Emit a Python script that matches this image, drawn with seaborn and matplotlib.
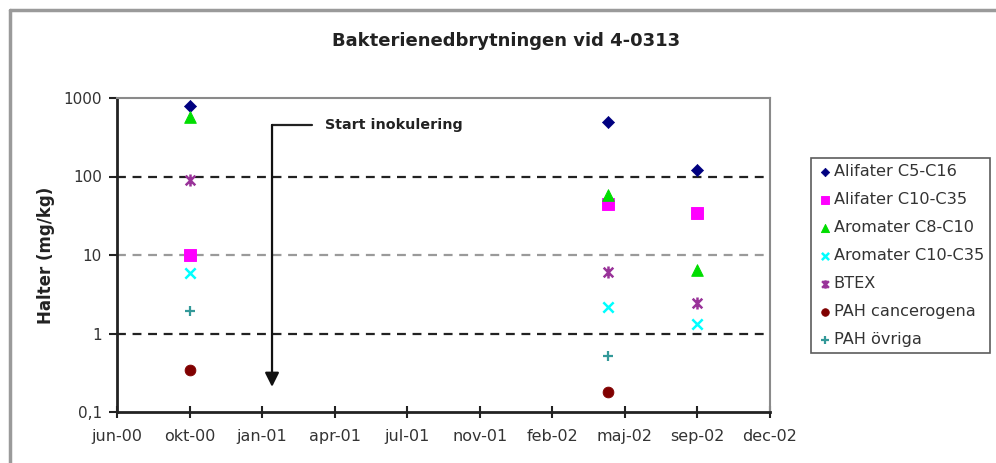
import numpy as np
import pandas as pd
import matplotlib
matplotlib.use("Agg")
import matplotlib.pyplot as plt
import matplotlib.dates as mdates
from matplotlib.lines import Line2D
import seaborn as sns

sns.set_theme(style="white")
plt.rcParams['font.family'] = ['DejaVu Sans']

# ---- data ----
sample_dates = ["2000-10-01", "2002-05-08", "2002-09-09"]
series_names = ["Alifater C5-C16", "Alifater C10-C35", "Aromater C8-C10",
                "Aromater C10-C35", "BTEX", "PAH cancerogena", "PAH övriga"]
alifater_c5_c16 = [800, 500, 120]
alifater_c10_c35 = [10, 45, 34]
aromater_c8_c10 = [580, 58, 6.4]
aromater_c10_c35 = [5.9, 2.2, 1.32]
btex = [90, 6.0, 2.45]
pah_cancerogena = [0.34, 0.18, np.nan]
pah_ovriga = [1.95, 0.52, np.nan]
tick_labels = ["jun-00", "okt-00", "jan-01", "apr-01", "jul-01",
               "nov-01", "feb-02", "maj-02", "sep-02", "dec-02"]
y_ticks = [0.1, 1, 10, 100, 1000]
y_tick_labels = ["0,1", "1", "10", "100", "1000"]

values = [alifater_c5_c16, alifater_c10_c35, aromater_c8_c10,
          aromater_c10_c35, btex, pah_cancerogena, pah_ovriga]

rows = []
for name, vals in zip(series_names, values):
    for d, v in zip(sample_dates, vals):
        rows.append({"serie": name, "datum": mdates.date2num(pd.Timestamp(d)), "halt": v})
df = pd.DataFrame(rows).dropna()

# ---- styles ----
star = matplotlib.path.Path(
    [(-1, -1), (1, 1), (-1, 1), (1, -1), (0, -1.25), (0, 1.25)],
    [1, 2, 1, 2, 1, 2])
styles = {
    "Alifater C5-C16": dict(marker="D", color="#000080", s=38),
    "Alifater C10-C35": dict(marker="s", color="#FF00FF", s=70),
    "Aromater C8-C10": dict(marker="^", color="#00DD00", s=70),
    "Aromater C10-C35": dict(marker="x", color="#00FFFF", s=55, linewidth=1.8),
    "BTEX": dict(marker=star, color="#993399", s=75, linewidth=1.8),
    "PAH cancerogena": dict(marker="o", color="#800000", s=60),
    "PAH övriga": dict(marker="+", color="#339999", s=55, linewidth=1.6),
}

fig = plt.figure(figsize=(9.96, 4.63), dpi=100)
ax = fig.add_axes([117/996, 1-412/463, 653/996, 314/463])

for name in series_names:
    sub = df[df["serie"] == name]
    st = dict(styles[name])
    col = st.pop("color")
    if st["marker"] in ("x", "+"):
        sns.scatterplot(data=sub, x="datum", y="halt", ax=ax, color=col,
                        label=name, zorder=5, **st)
    else:
        sns.scatterplot(data=sub, x="datum", y="halt", ax=ax, color=col,
                        edgecolor=col, label=name, zorder=5, **st)

ax.set_yscale("log")
ax.set_ylim(0.1, 1000)
start = mdates.date2num(pd.Timestamp("2000-06-21"))
step = 101.4
ticks = start + np.arange(len(tick_labels)) * step
ax.set_xlim(ticks[0], ticks[-1])
ax.set_xticks(ticks)
ax.set_xticklabels(tick_labels, fontsize=11.5, color="#333333")
ax.set_yticks(y_ticks)
ax.set_yticklabels(y_tick_labels, fontsize=11, color="#333333")
ax.yaxis.set_minor_locator(matplotlib.ticker.NullLocator())
ax.tick_params(axis="x", direction="inout", length=8, width=1.5, color="#222222", pad=8)
ax.tick_params(axis="y", direction="out", length=6, width=1.5, color="#222222", left=True, pad=5)
ax.tick_params(axis="x", bottom=True)
ax.set_xlabel("")
ax.set_ylabel("Halter (mg/kg)", fontsize=12, fontweight="bold", labelpad=6,
              color="#222222")

for side in ("left", "bottom"):
    ax.spines[side].set_color("#222222")
    ax.spines[side].set_linewidth(2)
for side in ("top", "right"):
    ax.spines[side].set_color("#8a8a8a")
    ax.spines[side].set_linewidth(1.5)

ax.axhline(100, color="#222222", linestyle=(0, (4, 3)), linewidth=1.6, zorder=2)
ax.axhline(10, color="#9a9a9a", linestyle=(0, (4, 3)), linewidth=1.6, zorder=2)
ax.axhline(1, color="#222222", linestyle=(0, (4, 3)), linewidth=1.6, zorder=2)

# annotation: Start inokulering
ax.plot([0.2374, 0.2986], [0.914, 0.914], transform=ax.transAxes, color="#222222", lw=1.6)
ax.annotate("", xy=(0.2374, 0.08), xytext=(0.2374, 0.914),
            xycoords="axes fraction", textcoords="axes fraction",
            arrowprops=dict(arrowstyle="-|>,head_length=0.7,head_width=0.35",
                            color="#111111", lw=1.6, shrinkA=0, shrinkB=0))
ax.text(0.3185, 0.914, "Start inokulering", transform=ax.transAxes,
        fontsize=10.3, fontweight="bold", va="center", ha="left", color="#222222")

fig.text(0.508, 0.911, "Bakterienedbrytningen vid 4-0313", fontsize=13,
         fontweight="bold", ha="center", va="center", color="#222222")

leg = ax.legend(loc="upper left", bbox_to_anchor=(811/996, 1-158/463),
                bbox_transform=fig.transFigure, fontsize=11.6, frameon=True,
                fancybox=False, edgecolor="#333333", labelspacing=0.8,
                handletextpad=0.1, handlelength=0.9, borderpad=0.4,
                borderaxespad=0, markerscale=0.7)
leg.get_frame().set_linewidth(1.2)
for t in leg.get_texts():
    t.set_color("#333333")

# outer chart frame (left and top)
fig.add_artist(Line2D([10/996, 10/996], [0, 1-10/463], transform=fig.transFigure,
                      color="#9a9a9a", lw=2.5))
fig.add_artist(Line2D([10/996, 1], [1-10/463, 1-10/463], transform=fig.transFigure,
                      color="#9a9a9a", lw=2.5))

fig.savefig("out.png", dpi=100)
